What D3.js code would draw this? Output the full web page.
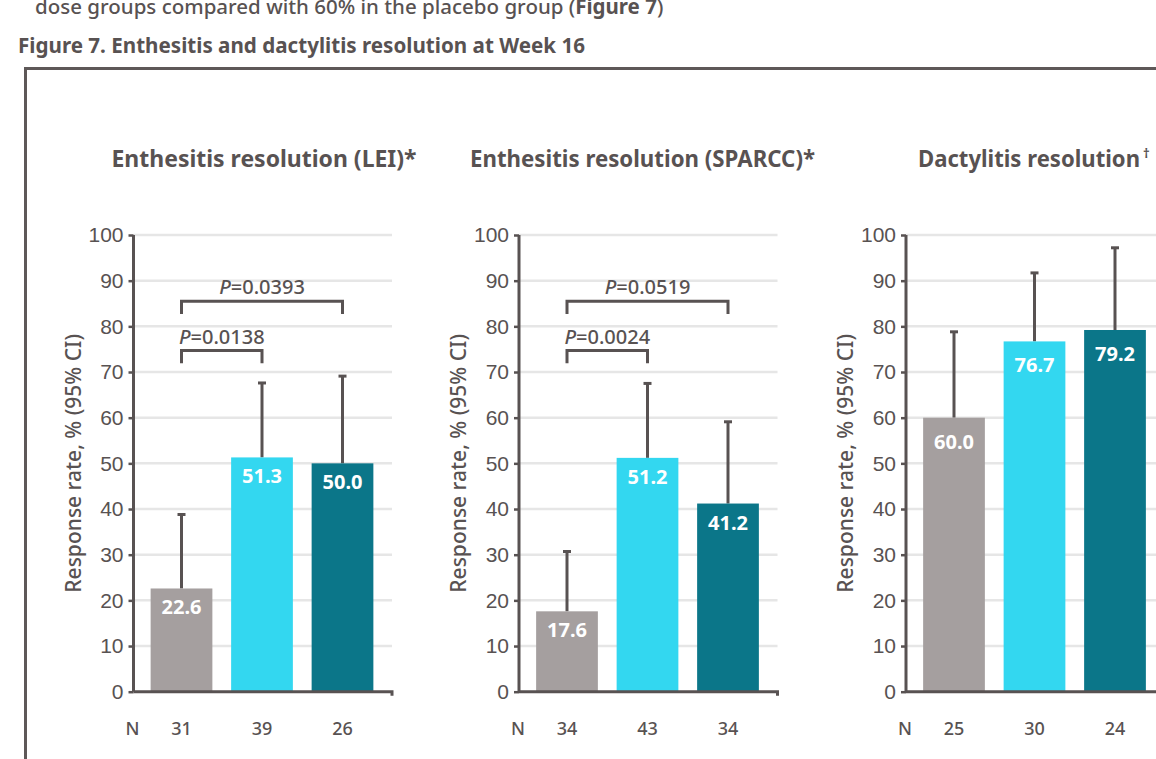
<!DOCTYPE html>
<html>
<head>
<meta charset="utf-8">
<script src="https://cdn.jsdelivr.net/npm/d3@7"></script>
<style>
  html, body { margin: 0; padding: 0; background: #ffffff; }
  svg { display: block; font-family: "Noto Sans", "Open Sans", sans-serif; font-stretch: condensed; font-weight: 500; }
</style>
</head>
<body>
<svg id="chart" width="1156" height="759"></svg>
<script>
// ---- Data -------------------------------------------------------------
const groups = ["placebo", "dose1", "dose2"];
const panelTitles = ["Enthesitis resolution (LEI)*", "Enthesitis resolution (SPARCC)*", "Dactylitis resolution"];
const panelTitleMarks = ["", "", "†"];

const leiRate = [22.6, 51.3, 50.0];
const sparccRate = [17.6, 51.2, 41.2];
const dactRate = [60.0, 76.7, 79.2];

const leiUpperCI = [38.8, 67.6, 69.1];
const sparccUpperCI = [30.7, 67.5, 59.1];
const dactUpperCI = [78.8, 91.7, 97.2];

const leiN = [31, 39, 26];
const sparccN = [34, 43, 34];
const dactN = [25, 30, 24];

const leiPValues = ["0.0138", "0.0393"];
const sparccPValues = ["0.0024", "0.0519"];
const dactPValues = [];

const comparisons = [[0, 1], [0, 2]];
const yTicks = [0, 10, 20, 30, 40, 50, 60, 70, 80, 90, 100];

// ---- Styles -----------------------------------------------------------
const barColors = ["#a59f9f", "#33d7f0", "#0b7689"];
const ink = "#585252";
const gridColor = "#e6e6e6";

const panels = [
  { title: panelTitles[0], mark: panelTitleMarks[0], rate: leiRate, upper: leiUpperCI, n: leiN, p: leiPValues, axisX: 133.5, titleX: 264, titleW: 305, labelDy: 26 },
  { title: panelTitles[1], mark: panelTitleMarks[1], rate: sparccRate, upper: sparccUpperCI, n: sparccN, p: sparccPValues, axisX: 519, titleX: 642.5, titleW: 345, labelDy: 26 },
  { title: panelTitles[2], mark: panelTitleMarks[2], rate: dactRate, upper: dactUpperCI, n: dactN, p: dactPValues, axisX: 906, titleX: 1029, titleW: 222, labelDy: 31 }
];

// bracket levels (in response-rate units) for the pairwise comparisons
const bracketLevels = [74.7, 85.5];
const bracketDrop = 2.8;

const svg = d3.select("#chart");

// ---- Header text --------------------------------------------------------
const head = svg.append("text")
  .attr("x", 35).attr("y", 14)
  .attr("fill", ink)
  .style("font-size", "20.5px");
head.append("tspan").text("dose groups compared with 60% in the placebo group (");
head.append("tspan").attr("font-weight", "bold").text("Figure 7");
head.append("tspan").text(")");

svg.append("text")
  .attr("x", 18).attr("y", 53)
  .attr("fill", ink)
  .attr("font-weight", "bold")
  .attr("textLength", 567)
  .attr("lengthAdjust", "spacingAndGlyphs")
  .style("font-size", "22px")
  .text("Figure 7. Enthesitis and dactylitis resolution at Week 16");

// outer frame (continues past the right and bottom edges)
svg.append("path")
  .attr("d", "M25.5,790 V68.5 H1200")
  .attr("fill", "none")
  .attr("stroke", "#5e5858")
  .attr("stroke-width", 3);

// ---- Shared y scale -----------------------------------------------------
const y = d3.scaleLinear().domain([0, 100]).range([691.7, 235]);

panels.forEach(pn => {
  const g = svg.append("g");
  const ax = pn.axisX;
  const gridEnd = ax + 258.5;

  const x = d3.scaleBand()
    .domain(groups)
    .range([ax + 7.75, ax + 249.25])
    .paddingInner(0.233)
    .paddingOuter(0.1165);

  // title
  g.append("text")
    .attr("x", pn.titleX - pn.titleW / 2).attr("y", 167)
    .attr("fill", ink)
    .attr("font-weight", "bold")
    .attr("textLength", pn.titleW)
    .attr("lengthAdjust", "spacingAndGlyphs")
    .style("font-size", "24px")
    .text(pn.title);
  if (pn.mark) {
    g.append("text")
      .attr("x", pn.titleX + pn.titleW / 2 + 3).attr("y", 158)
      .attr("fill", ink)
      .attr("font-weight", "bold")
      .style("font-size", "13px")
      .text(pn.mark);
  }

  // gridlines
  g.append("g").selectAll("line")
    .data(yTicks.filter(v => v > 0))
    .join("line")
    .attr("x1", ax).attr("x2", gridEnd)
    .attr("y1", d => y(d)).attr("y2", d => y(d))
    .attr("stroke", gridColor)
    .attr("stroke-width", 2.5);

  // y axis
  const yAxis = g.append("g")
    .attr("transform", `translate(${ax},0)`)
    .call(d3.axisLeft(y).tickValues(yTicks).tickSize(5).tickPadding(5));
  yAxis.select(".domain").attr("stroke", ink).attr("stroke-width", 3)
    .attr("d", `M0,${y(0)}V${y(100)}`);
  yAxis.selectAll(".tick line").attr("stroke", ink).attr("stroke-width", 2.5);
  yAxis.selectAll(".tick text")
    .attr("fill", ink)
    .style("font-size", "21px")
    .style("font-family", "inherit");

  // y axis label
  g.append("text")
    .attr("transform", `translate(${ax - 53},${(y(0) + y(100)) / 2}) rotate(-90)`)
    .attr("text-anchor", "middle")
    .attr("fill", ink)
    .style("font-size", "21px")
    .text("Response rate, % (95% CI)");

  // error bars (upper CI)
  const eb = g.append("g").selectAll("g")
    .data(groups.map((k, i) => ({ k, v: pn.rate[i], u: pn.upper[i] })))
    .join("g");
  eb.append("line")
    .attr("x1", d => x(d.k) + x.bandwidth() / 2)
    .attr("x2", d => x(d.k) + x.bandwidth() / 2)
    .attr("y1", d => y(d.v)).attr("y2", d => y(d.u))
    .attr("stroke", ink).attr("stroke-width", 3);
  eb.append("line")
    .attr("x1", d => x(d.k) + x.bandwidth() / 2 - 4)
    .attr("x2", d => x(d.k) + x.bandwidth() / 2 + 4)
    .attr("y1", d => y(d.u)).attr("y2", d => y(d.u))
    .attr("stroke", ink).attr("stroke-width", 3);

  // bars
  g.append("g").selectAll("rect")
    .data(groups.map((k, i) => ({ k, i, v: pn.rate[i] })))
    .join("rect")
    .attr("x", d => x(d.k))
    .attr("width", x.bandwidth())
    .attr("y", d => y(d.v))
    .attr("height", d => y(0) - y(d.v))
    .attr("fill", d => barColors[d.i]);

  // value labels
  g.append("g").selectAll("text")
    .data(groups.map((k, i) => ({ k, v: pn.rate[i] })))
    .join("text")
    .attr("x", d => x(d.k) + x.bandwidth() / 2)
    .attr("y", d => y(d.v) + pn.labelDy)
    .attr("text-anchor", "middle")
    .attr("fill", "#ffffff")
    .attr("font-weight", "bold")
    .style("font-size", "20px")
    .text(d => d.v.toFixed(1));

  // x axis baseline with end tick
  g.append("path")
    .attr("d", `M${ax},${y(0)}H${gridEnd}v4`)
    .attr("fill", "none")
    .attr("stroke", ink)
    .attr("stroke-width", 3);

  // N row
  g.append("text")
    .attr("x", ax - 1).attr("y", 735)
    .attr("text-anchor", "middle")
    .attr("fill", ink)
    .style("font-size", "18px")
    .text("N");
  g.append("g").selectAll("text")
    .data(groups.map((k, i) => ({ k, n: pn.n[i] })))
    .join("text")
    .attr("x", d => x(d.k) + x.bandwidth() / 2)
    .attr("y", 735)
    .attr("text-anchor", "middle")
    .attr("fill", ink)
    .style("font-size", "18px")
    .text(d => d.n);

  // significance brackets
  pn.p.forEach((pv, j) => {
    const [a, b] = comparisons[j];
    const xa = x(groups[a]) + x.bandwidth() / 2;
    const xb = x(groups[b]) + x.bandwidth() / 2;
    const yt = y(bracketLevels[j]);
    const yb = y(bracketLevels[j] - bracketDrop);
    g.append("path")
      .attr("d", `M${xa},${yb}V${yt}H${xb}V${yb}`)
      .attr("fill", "none")
      .attr("stroke", ink)
      .attr("stroke-width", 3);
    const pt = g.append("text")
      .attr("x", (xa + xb) / 2).attr("y", yt - 7)
      .attr("text-anchor", "middle")
      .attr("fill", ink)
      .style("font-size", "20px");
    pt.append("tspan").attr("font-style", "italic").text("P");
    pt.append("tspan").text("=" + pv);
  });
});
</script>
</body>
</html>
